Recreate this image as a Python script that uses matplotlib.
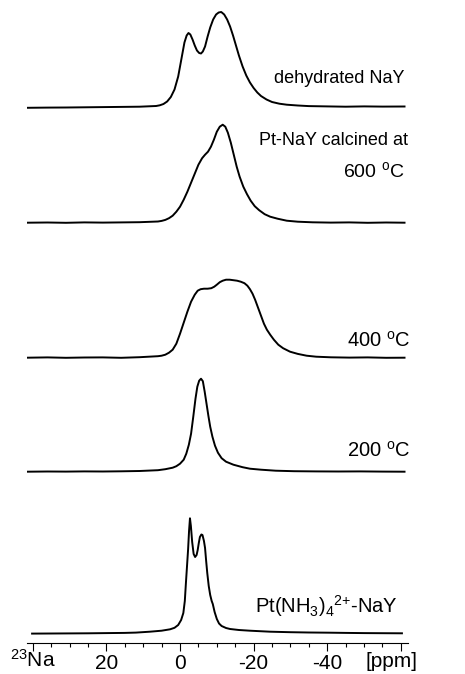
import matplotlib
matplotlib.use('Agg')
import matplotlib.pyplot as plt
from matplotlib.ticker import MultipleLocator, FixedLocator

plt.rcParams['font.family'] = ['Liberation Sans', 'DejaVu Sans']
plt.rcParams['mathtext.default'] = 'regular'
plt.rcParams['axes.unicode_minus'] = False

# 23Na MAS NMR spectra, chemical shift in ppm, intensity in arbitrary units

# dehydrated NaY
ppm_dehyd = [41.5, 36, 31, 26, 21, 16, 11, 6.5, 5.5, 4.5, 3.5, 2.5, 1.5, 0.5,
             -0.5, -1.2, -1.8, -2.3, -2.8, -3.4, -4.0, -4.6, -5.2, -5.7, -6.2,
             -6.8, -7.5, -8.2, -9.0, -9.8, -10.5, -11.2, -12.0, -12.8, -13.6,
             -14.4, -15.2, -16.0, -17.0, -18.0, -19.0, -20.0, -21.0, -22.0,
             -23.5, -25, -27, -29, -32, -35, -40, -45, -50, -55, -61]
int_dehyd = [-1.3, -1.1, -1.0, -0.8, -0.6, -0.4, -0.2, 0.5, 1.2, 2.5, 5, 9.5,
             17, 30, 50, 64, 71, 73.5, 72, 67, 61, 56, 53.5, 53, 55, 60, 70,
             79, 87, 92, 94, 94.5, 92, 87, 80, 71, 61, 51, 40, 31, 24, 18.5,
             14, 10.5, 7, 4.5, 2.8, 1.8, 1, 0.4, 0.1, -0.2, 0.1, -0.1, 0]

# Pt-NaY calcined at 600 C
ppm_600 = [41.5, 36, 31, 26, 21, 16, 11, 6, 5, 4, 3, 2, 1, 0, -1, -2, -3, -4,
           -5, -6, -6.8, -7.6, -8.4, -9.2, -10.0, -10.8, -11.6, -12.3, -13.0,
           -13.8, -14.6, -15.4, -16.2, -17.2, -18.2, -19.2, -20.3, -21.5, -23,
           -24.5, -26.5, -29, -32, -36, -41, -46, -51, -56, -61]
int_600 = [0, 0.2, -0.1, 0.3, 0.1, 0.3, 0.5, 1.2, 1.8, 2.8, 4.5, 7, 11, 16, 23,
           31, 40, 49, 58, 64.5, 68, 71, 76, 83, 91, 96, 98, 96, 90, 80, 68,
           56, 46, 36, 28.5, 22, 16.5, 12.5, 8.5, 6, 4, 2, 1, 0.4, 0.1, 0.3,
           -0.1, 0.2, 0]

# Pt-NaY calcined at 400 C
ppm_400 = [41.5, 36, 31, 26, 21, 16, 11, 6, 5, 4, 3, 2, 1, 0, -1, -2, -3, -4,
           -4.8, -5.6, -6.5, -7.5, -8.5, -9.3, -10.0, -10.8, -11.6, -12.5,
           -13.5, -14.5, -15.5, -16.5, -17.5, -18.3, -19.0, -19.7, -20.4,
           -21.2, -22.0, -22.8, -23.6, -24.5, -25.5, -26.7, -28, -29.9, -32,
           -34.4, -37, -41, -46, -51, -56, -61]
int_400 = [0, 0.3, -0.1, 0.2, 0.3, -0.1, 0.5, 1.5, 2, 3, 5, 8, 14, 24, 35, 46,
           56, 63, 67, 68.5, 69, 69, 69.5, 71, 73, 75.5, 77, 78, 78, 77.5, 77,
           76, 74.5, 72, 68.5, 64, 58, 50, 42, 34, 28, 23, 18, 13, 9.5, 6, 3.8,
           2, 1, 0.4, 0.1, 0.3, -0.1, 0]

# Pt-NaY calcined at 200 C
ppm_200 = [41.5, 36, 31, 26, 21, 16, 11, 6, 4, 2, 1, 0, -1, -1.7, -2.4, -3.0,
           -3.6, -4.2, -4.7, -5.2, -5.7, -6.2, -6.7, -7.2, -7.7, -8.2, -8.8,
           -9.5, -10.3, -11.3, -12.5, -14.5, -17, -19, -22, -26, -31, -37, -43,
           -49, -55, -61]
int_200 = [0, 0.2, 0.1, 0.3, 0.2, 0.4, 0.7, 1.5, 2.5, 4, 5.5, 8, 12, 18, 27, 38,
           55, 73, 85, 91, 93, 90.5, 80, 68, 56, 45, 35, 26, 19, 13.5, 10, 7,
           4.5, 3, 2, 1, 0.5, 0.3, 0.2, 0.3, 0.1, 0]

# Pt(NH3)4 2+ exchanged NaY
ppm_amm = [40.2, 35, 30, 25, 20, 15, 12, 8.2, 5, 2.7, 1.5, 0.5, -0.3, -0.9,
           -1.3, -1.6, -1.9, -2.2, -2.45, -2.7, -2.95, -3.3, -3.7, -4.1, -4.5,
           -4.8, -5.1, -5.4, -5.8, -6.1, -6.5, -6.8, -7.1, -7.4, -7.8, -8.2,
           -8.6, -8.9, -9.4, -10, -10.6, -11.3, -12.5, -13.6, -16, -19, -24.5,
           -30, -35, -40.8, -45, -50, -55, -60.3]
int_amm = [0.4, 0.5, 0.6, 0.7, 0.9, 1.1, 1.4, 2.3, 3.3, 4.7, 6.2, 9, 14, 21, 33,
           51, 68, 85, 103, 115.7, 108, 92, 80, 77, 79, 84, 91, 97, 99.5, 99,
           93, 86, 73, 61, 48, 39, 33, 30, 22, 15, 10.5, 8, 6, 5, 4, 3.3, 2.3,
           1.8, 1.5, 1.3, 1.1, 0.9, 0.8, 0.7]

spectra = [(ppm_dehyd, int_dehyd), (ppm_600, int_600), (ppm_400, int_400),
           (ppm_200, int_200), (ppm_amm, int_amm)]
offsets = [536.5, 420.3, 285.3, 171.3, 9]

fig = plt.figure(figsize=(4.65, 6.74), dpi=100)
ax = fig.add_axes([27.3 / 465, 31 / 674, 380.9 / 465, 643 / 674])

for (x, y), off in zip(spectra, offsets):
    ax.plot(x, [v + off for v in y], color='black', lw=1.4,
            solid_joinstyle='round')

ax.set_xlim(41.5, -62)
ax.set_ylim(0, 643)

for s in ['left', 'top', 'right']:
    ax.spines[s].set_visible(False)
ax.spines['bottom'].set_linewidth(0.8)
ax.set_yticks([])

ax.xaxis.set_major_locator(FixedLocator([40, 20, 0, -20, -40, -60]))
ax.xaxis.set_minor_locator(MultipleLocator(5))
ax.set_xticklabels(['', '20', '0', '-20', '-40', ''])
ax.tick_params(axis='x', which='major', length=6, width=0.8, labelsize=15, pad=2)
ax.tick_params(axis='x', which='minor', length=3, width=0.8)

ax.text(40, -24, '$^{23}$Na', fontsize=15, ha='center', va='baseline')
ax.text(-64.4, -24, '[ppm]', fontsize=15, ha='right', va='baseline')

lab = dict(ha='right', va='baseline')
ax.text(-61.1, 559.7, 'dehydrated NaY', fontsize=13, **lab)
ax.text(-62.0, 498, 'Pt-NaY calcined at', fontsize=13, **lab)
ax.text(-61.1, 466, '600 $^{o}$C', fontsize=14, **lab)
ax.text(-62.7, 296, '400 $^{o}$C', fontsize=14.5, **lab)
ax.text(-62.7, 186, '200 $^{o}$C', fontsize=14.5, **lab)
ax.text(-59.2, 30, 'Pt(NH$_3$)$_4$$^{2{+}}$-NaY', fontsize=14.5, **lab)

fig.savefig('out.png', dpi=100)
